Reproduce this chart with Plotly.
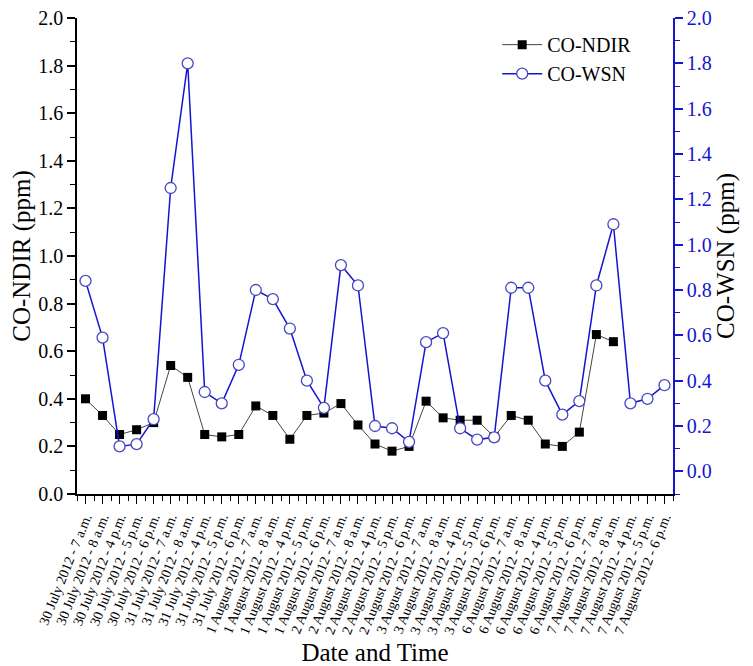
import plotly.graph_objects as go

days = ["30 July", "31 July", "1 August", "2 August", "3 August", "6 August", "7 August"]
hours = ["7 a.m.", "8 a.m.", "4 p.m.", "5 p.m.", "6 p.m."]
labels = [f"{d} 2012 - {h}" for d in days for h in hours]

co_ndir = [0.40, 0.33, 0.25, 0.27, 0.30, 0.54, 0.49, 0.25, 0.24, 0.25,
           0.37, 0.33, 0.23, 0.33, 0.34, 0.38, 0.29, 0.21, 0.18, 0.20,
           0.39, 0.32, 0.31, 0.31, 0.24, 0.33, 0.31, 0.21, 0.20, 0.26,
           0.67, 0.64, None, None, None]
co_wsn = [0.84, 0.59, 0.11, 0.12, 0.23, 1.25, 1.80, 0.35, 0.30, 0.47,
          0.80, 0.76, 0.63, 0.40, 0.28, 0.91, 0.82, 0.20, 0.19, 0.13,
          0.57, 0.61, 0.19, 0.14, 0.15, 0.81, 0.81, 0.40, 0.25, 0.31,
          0.82, 1.09, 0.30, 0.32, 0.38]

x = list(range(len(labels)))
FONT = "Liberation Serif"
BLUE = "#1414d2"

fig = go.Figure()
fig.add_trace(go.Scatter(
    x=x, y=co_ndir, name="CO-NDIR", mode="lines+markers",
    line=dict(color="#444444", width=1),
    marker=dict(symbol="square", size=9, color="black"),
    connectgaps=False,
))
fig.add_trace(go.Scatter(
    x=x, y=co_wsn, name="CO-WSN", mode="lines+markers", yaxis="y2",
    line=dict(color=BLUE, width=1.5),
    marker=dict(symbol="circle", size=11, color="white",
                line=dict(color="#4848c0", width=1.3)),
))

fig.update_layout(
    width=745, height=658,
    margin=dict(l=69, r=80, t=10, b=172, autoexpand=False),
    paper_bgcolor="white", plot_bgcolor="white",
    font=dict(family=FONT, size=20, color="black"),
    showlegend=True,
    legend=dict(x=0.705, y=0.985, xanchor="left", yanchor="top",
                bgcolor="rgba(0,0,0,0)", font=dict(size=20, family=FONT),
                itemwidth=40, tracegroupgap=0),
    xaxis=dict(
        automargin=False,
        range=[-0.5, len(labels) - 0.5],
        tickmode="array", tickvals=x, ticktext=labels,
        tickangle=-68, tickfont=dict(size=14, family=FONT),
        ticklabeloverflow="allow",
        ticks="outside", ticklen=8, tickwidth=1.3, tickcolor="black",
        showline=True, linecolor="black", linewidth=1.5,
        showgrid=False, zeroline=False,
        minor=dict(tickmode="array", tickvals=[i + 0.5 for i in range(-1, len(labels))],
                   ticks="outside", ticklen=5, tickwidth=1.2, tickcolor="black"),
        title=dict(text="Date and Time", font=dict(size=25, family=FONT), standoff=8),
    ),
    yaxis=dict(
        automargin=False,
        range=[0, 2.0], dtick=0.2, tickformat=".1f",
        ticklabeloverflow="allow",
        ticks="outside", ticklen=8, tickwidth=1.5, tickcolor="black",
        showline=True, linecolor="black", linewidth=1.5,
        showgrid=False, zeroline=False,
        minor=dict(dtick=0.1, ticks="outside", ticklen=5, tickwidth=1.3, tickcolor="black"),
        tickfont=dict(size=20, family=FONT),
        title=dict(text="CO-NDIR (ppm)", font=dict(size=25, family=FONT), standoff=6),
    ),
    yaxis2=dict(
        automargin=False,
        overlaying="y", side="right",
        range=[-0.1, 2.0], tickmode="array",
        tickvals=[i / 10 for i in range(0, 21, 2)],
        ticktext=[f"{i / 10:.1f}" for i in range(0, 21, 2)],
        ticklabeloverflow="allow",
        ticks="outside", ticklen=8, tickwidth=1.5, tickcolor=BLUE,
        showline=True, linecolor=BLUE, linewidth=1.5,
        showgrid=False, zeroline=False,
        minor=dict(tickmode="array", tickvals=[i / 10 for i in range(-1, 21, 2)],
                   ticks="outside", ticklen=5, tickwidth=1.3, tickcolor=BLUE),
        tickfont=dict(size=20, family=FONT, color=BLUE),
        title=dict(text="CO-WSN (ppm)", font=dict(size=25, family=FONT, color="black"), standoff=6),
    ),
)

fig.write_html("out.html")
